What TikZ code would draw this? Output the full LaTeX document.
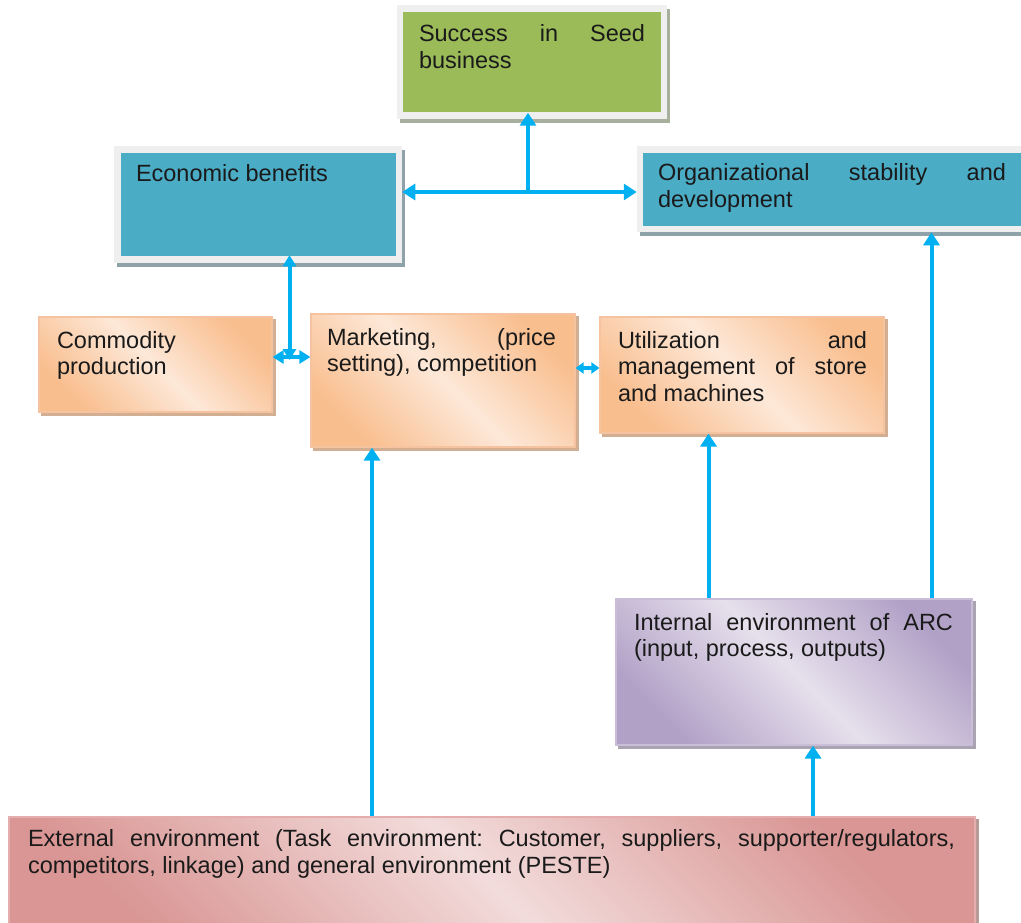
\documentclass[tikz,border=0pt]{standalone}
\usepackage{fontspec}
\setmainfont{Liberation Sans}
\usetikzlibrary{arrows.meta,backgrounds}

\definecolor{arrowblue}{HTML}{00B0F0}
\definecolor{leafgreen}{HTML}{9BBB59}
\definecolor{tealblue}{HTML}{4BACC6}
\definecolor{framegray}{HTML}{EFEFEF}
\definecolor{greenshadow}{HTML}{A7B09C}
\definecolor{blueshadow}{HTML}{8FA2AA}
\definecolor{orangedark}{HTML}{F9BE8E}
\definecolor{orangelight}{HTML}{FDE8D8}
\definecolor{orangeline}{HTML}{F6C3A0}
\definecolor{orangeshadow}{HTML}{D2AE92}
\definecolor{purpledark}{HTML}{B2A1C7}
\definecolor{purplelight}{HTML}{E6E0EC}
\definecolor{purpleline}{HTML}{C9BDD8}
\definecolor{purpleshadow}{HTML}{A9A3B2}
\definecolor{pinkdark}{HTML}{D99694}
\definecolor{pinklight}{HTML}{F2DCDB}
\definecolor{pinkline}{HTML}{E3AEAD}
\definecolor{pinkshadow}{HTML}{B89A99}
\definecolor{inktext}{HTML}{1A1A1A}

\newcommand\diagfont{\fontsize{23.5pt}{26.5pt}\selectfont\frenchspacing
  \parindent=0pt \hyphenpenalty=10000 \exhyphenpenalty=10000
  \tolerance=9999 \hbadness=10000}

\tikzset{
  x=1pt, y=1pt,
  framedbox/.style={rectangle, inner sep=0pt, draw=framegray, line width=6.5pt},
  softbox/.style={rectangle, inner sep=0pt, line width=1.2pt},
  orangebox/.style={softbox, draw=orangeline, top color=orangedark,
    bottom color=orangedark, middle color=orangelight, shading angle=-45},
  purplebox/.style={softbox, draw=purpleline, top color=purpledark,
    bottom color=purpledark, middle color=purplelight, shading angle=-45},
  pinkbox/.style={softbox, draw=pinkline, top color=pinkdark,
    bottom color=pinkdark, middle color=pinklight, shading angle=-45},
  boxtext/.style={anchor=north west, inner sep=0pt, outer sep=0pt,
    align=justify, text=inktext, font=\diagfont, execute at begin node=\strut},
  bighead/.tip={Triangle[width=16pt,length=13pt]},
  midhead/.tip={Triangle[width=13pt,length=11pt]},
  smallhead/.tip={Triangle[width=11pt,length=8pt]},
  flow/.style={draw=arrowblue, line width=4pt, -bighead},
  twoway/.style={draw=arrowblue, line width=4pt, bighead-bighead},
  midway2/.style={draw=arrowblue, line width=4pt, midhead-midhead},
  smallway/.style={draw=arrowblue, line width=4pt, smallhead-smallhead},
}

\begin{document}
\begin{tikzpicture}
\useasboundingbox (0,0) rectangle (1021,-923);

% boxes
\node[framedbox, fill=leafgreen, minimum width=264, minimum height=107] (succ) at (532,-62) {};
\node[framedbox, fill=tealblue, minimum width=281.5, minimum height=110] (econ) at (258.25,-204.5) {};
\node[framedbox, fill=tealblue, minimum width=420, minimum height=79.5] (org) at (850,-189.25) {};
\node[orangebox, minimum width=233, minimum height=95] (comm) at (155.5,-364.5) {};
\node[orangebox, minimum width=264, minimum height=133] (mkt) at (443,-380.5) {};
\node[orangebox, minimum width=284, minimum height=116] (util) at (742,-375) {};
\node[purplebox, minimum width=356, minimum height=146] (intl) at (794,-672) {};
\node[pinkbox, minimum width=966, minimum height=133] (ext) at (492,-883.5) {};

% drop shadows behind the boxes
\begin{scope}[on background layer]
  \fill[greenshadow] ([shift={(3,-4)}]succ.south west) rectangle ([shift={(3,-4)}]succ.north east);
  \fill[blueshadow] ([shift={(3,-4)}]econ.south west) rectangle ([shift={(3,-4)}]econ.north east);
  \fill[blueshadow] ([shift={(3,-4)}]org.south west) rectangle ([shift={(3,-4)}]org.north east);
  \fill[orangeshadow] ([shift={(3,-3)}]comm.south west) rectangle ([shift={(3,-3)}]comm.north east);
  \fill[orangeshadow] ([shift={(3,-3)}]mkt.south west) rectangle ([shift={(3,-3)}]mkt.north east);
  \fill[orangeshadow] ([shift={(3,-3)}]util.south west) rectangle ([shift={(3,-3)}]util.north east);
  \fill[purpleshadow] ([shift={(3,-3)}]intl.south west) rectangle ([shift={(3,-3)}]intl.north east);
  \fill[pinkshadow] ([shift={(3,-3)}]ext.south west) rectangle ([shift={(3,-3)}]ext.north east);
\end{scope}

% connector anchor points
\coordinate (j) at (528,-192);
\coordinate (k) at (289.5,-357);
\coordinate (m) at (587,-368);
\coordinate (a1) at (372,0);
\coordinate (a2) at (708.5,0);
\coordinate (a3) at (931.5,0);
\coordinate (a4) at (813,0);

% connectors
\draw[flow, shorten >=-6pt] (j) -- (succ.south -| j);
\draw[twoway] (econ.east |- j) -- (org.west |- j);
\draw[midway2, shorten <=-3pt, shorten >=-7.5pt] (k) -- (econ.south -| k);
\draw[midway2] (comm.east |- k) -- (mkt.west |- k);
\draw[smallway] (mkt.east |- m) -- (util.west |- m);
\draw[flow] (ext.north -| a1) -- (mkt.south -| a1);
\draw[flow] (intl.north -| a2) -- (util.south -| a2);
\draw[flow] (intl.north -| a3) -- (org.south -| a3);
\draw[flow] (ext.north -| a4) -- (intl.south -| a4);

% texts
\node[boxtext, text width=226] (succ-t) at (419,-23.15) {Success in Seed business};
\node[boxtext, text width=240] (econ-t) at (136,-163.15) {Economic benefits};
\node[boxtext, text width=348] (org-t) at (658,-162.15) {Organizational stability and development};
\node[boxtext, text width=197] (comm-t) at (57,-329.75) {Commodity production};
\node[boxtext, text width=229] (mkt-t) at (327,-326.45) {Marketing, (price setting), competition};
\node[boxtext, text width=249] (util-t) at (618,-329.75) {Utilization and management of store and machines};
\node[boxtext, text width=319] (intl-t) at (634,-611.45) {Internal environment of ARC (input, process, outputs)};
\node[boxtext, text width=927] (ext-t) at (28,-828.15) {External environment (Task environment: Customer, suppliers, supporter/regulators, competitors, linkage) and general environment (PESTE)};
\end{tikzpicture}
\end{document}
